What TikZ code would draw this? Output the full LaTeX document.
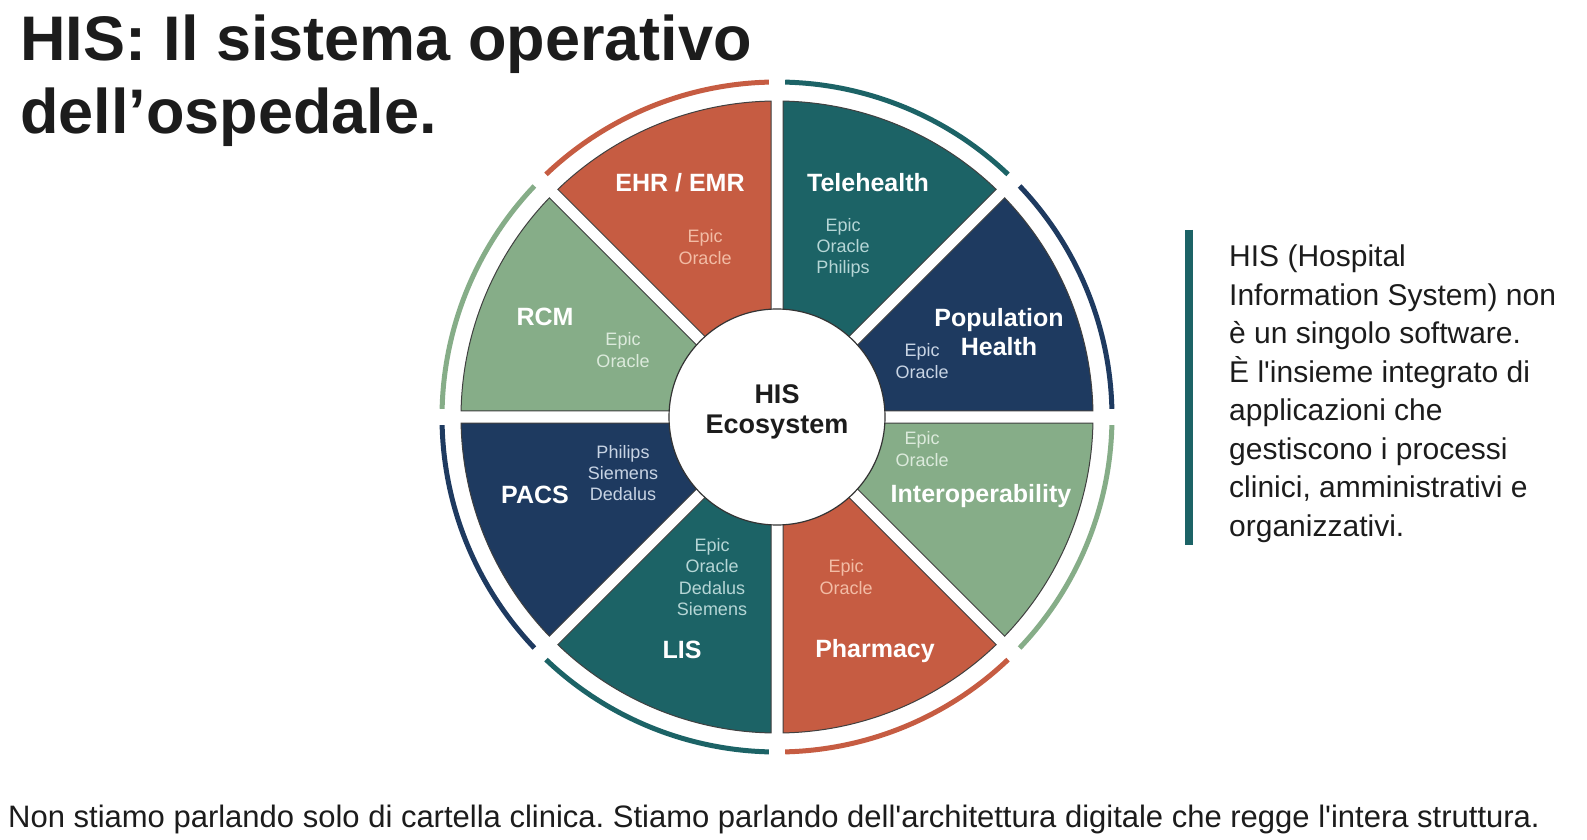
\documentclass[tikz,border=0pt]{standalone}
\usepackage{fontspec}
\setmainfont{Liberation Sans}
\usepackage{tikz}
\usetikzlibrary{positioning}
\frenchspacing

\definecolor{hisorange}{RGB}{198,92,66}
\definecolor{histeal}{RGB}{28,99,102}
\definecolor{hisnavy}{RGB}{30,58,96}
\definecolor{hisgreen}{RGB}{134,173,136}
\definecolor{ink}{RGB}{28,28,28}
\definecolor{vorange}{RGB}{242,188,165}
\definecolor{vteal}{RGB}{182,214,214}
\definecolor{vnavy}{RGB}{200,212,228}
\definecolor{vgreen}{RGB}{220,234,220}

\tikzset{
  sector/.style={draw=black!75,line width=1pt},
  ring/.style={line width=5pt},
  applabel/.style={text=white,font=\fontsize{25}{29}\selectfont\bfseries,align=center,inner sep=0pt},
  vendor/.style={font=\fontsize{18}{21.3}\selectfont,align=center,inner sep=0pt},
  hub/.style={circle,draw=black!80,line width=1.2pt,fill=white,minimum size=216pt,inner sep=0pt},
  hubtext/.style={text=ink,font=\fontsize{27}{31}\selectfont\bfseries,align=center,inner sep=0pt},
}

\begin{document}
\begin{tikzpicture}[x=1pt,y=1pt]
\useasboundingbox (0,0) rectangle (1587,839);
\fill[white] (0,0) rectangle (1587,839);

% title
\node[anchor=north west,inner sep=0pt,align=left,text=ink,font=\fontsize{63}{73}\selectfont\bfseries] (title) at (20,824) {HIS: Il sistema operativo\\dell’ospedale.};

% the wheel
\begin{scope}[shift={(777,422)}]
\foreach \a/\col in {90/hisorange,45/histeal,0/hisnavy,-45/hisgreen,-90/hisorange,-135/histeal,180/hisnavy,135/hisgreen}
{
  \filldraw[sector,fill=\col] (\a+22.5:15.7) -- (\a+1.09:316) arc[start angle=\a+1.09,end angle=\a+43.91,radius=316] -- cycle;
  \draw[ring,draw=\col] (\a+1.4:335) arc[start angle=\a+1.4,end angle=\a+43.6,radius=335];
}

\node[hub] (hub) at (0,0) {};
\node[hubtext] (hubtxt) at (0,5) {HIS\\[-1pt]Ecosystem};

\node[applabel] (ehr) at (-97,234) {EHR / EMR};
\node[vendor,text=vorange] (ehrv) at (-72,170) {Epic\\Oracle};

\node[applabel] (tele) at (91,234) {Telehealth};
\node[vendor,text=vteal] (telev) at (66,169) {Epic\\Oracle\\Philips};

\node[applabel] (pop) at (222,85) {Population\\Health};
\node[vendor,text=vnavy] (popv) at (145,56) {Epic\\Oracle};

\node[applabel] (inter) at (204,-79) {Interoperability};
\node[vendor,text=vgreen] (interv) at (145,-32) {Epic\\Oracle};

\node[applabel] (pharm) at (98,-234) {Pharmacy};
\node[vendor,text=vorange] (pharmv) at (69,-160) {Epic\\Oracle};

\node[applabel] (lis) at (-95,-233) {LIS};
\node[vendor,text=vteal] (lisv) at (-65,-160) {Epic\\Oracle\\Dedalus\\Siemens};

\node[applabel] (pacs) at (-242,-78) {PACS};
\node[vendor,text=vnavy] (pacsv) at (-154,-56) {Philips\\Siemens\\Dedalus};

\node[applabel] (rcm) at (-232,100) {RCM};
\node[vendor,text=vgreen] (rcmv) at (-154,67) {Epic\\Oracle};
\end{scope}

% side note
\draw[line width=8pt,histeal] (1189,609) -- (1189,294);
\node[anchor=north west,inner sep=0pt,align=left,text=ink,font=\fontsize{30}{38.5}\selectfont] (note) at (1229,594)
  {HIS (Hospital\\Information System) non\\è un singolo software.\\È l\textquotesingle insieme integrato di\\applicazioni che\\gestiscono i processi\\clinici, amministrativi e\\organizzativi.};

% caption
\node[anchor=base west,inner sep=0pt,text=ink,font=\fontsize{31}{35}\selectfont] (caption) at (8,12)
  {Non stiamo parlando solo di cartella clinica. Stiamo parlando dell\textquotesingle architettura digitale che regge l\textquotesingle intera struttura.};
\end{tikzpicture}
\end{document}
